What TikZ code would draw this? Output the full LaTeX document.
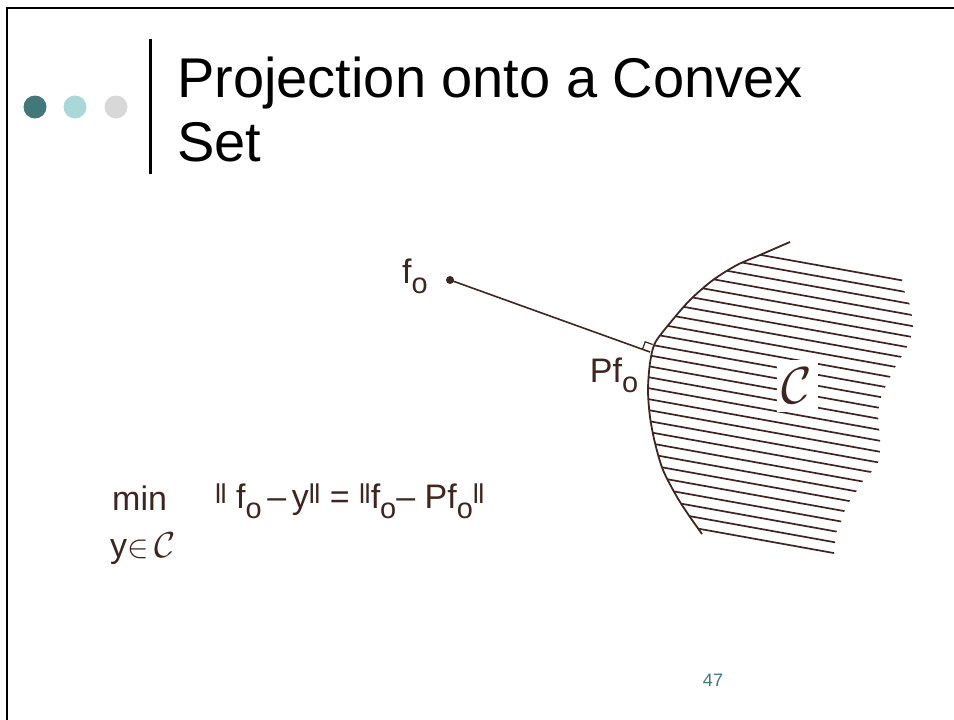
\documentclass[tikz,border=0pt]{standalone}
\usepackage{fontspec}
\setmainfont{Liberation Sans}
\usepackage{tikz}
\usetikzlibrary{calc}
\definecolor{Ink}{HTML}{3E2522}
\definecolor{DotDark}{HTML}{417878}
\definecolor{DotLight}{HTML}{A9D8D8}
\definecolor{DotGrey}{HTML}{D8D8D8}
\definecolor{PageNum}{HTML}{3F7A7A}
\newcommand{\titlefont}{\fontsize{56}{64}\selectfont}
\newcommand{\handfont}{\fontsize{34}{38}\selectfont}
\newcommand{\numfont}{\fontsize{18}{20}\selectfont}
\newcommand{\fo}{f\raisebox{-.3em}{\scalebox{.85}{o}}}
\newcommand{\nrm}{\raisebox{.14em}{\scalebox{.8}{l\kern-.02em l}}}
\newcommand{\setC}[1]{\scalebox{#1}{$\mathcal{C}$}}
\tikzset{
  ink/.style={draw=Ink, line width=1.8pt},
  hatch/.style={draw=Ink, line width=1.7pt},
  hand/.style={text=Ink, font=\handfont, inner sep=0pt}
}

\begin{document}
\begin{tikzpicture}[x=1pt,y=-1pt]
  \useasboundingbox (0,0) rectangle (954,720);

  %% Slide frame
  \draw[line width=2pt] (954,7.5) -- (6.5,7.5) -- (6.5,720);

  %% Bullets and bar
  \fill[DotDark]  (35,107)  circle (11.5);
  \fill[DotLight] (75,107)  circle (11.5);
  \fill[DotGrey]  (116,107) circle (11.5);
  \draw[line width=3pt] (150,39) -- (150,174);

  %% Title
  \node[anchor=base west, font=\titlefont, inner sep=0pt] (title1) at (177,97) {Projection onto a Convex};
  \node[anchor=base west, font=\titlefont, inner sep=0pt] (title2) at (177,161) {Set};

  %% Hatching of the set
  \begin{scope}
    \clip (788,240) -- plot[smooth] coordinates {(788,243) (760,255) (737,265) (713,280) (690,300)
        (670,323) (655,343) (650,363) (648,390) (650,417) (655,443) (663,470) (677,497) (690,517) (702,532)}
      -- (705,562) -- (834,562) -- (834,553) -- (835,543) -- (836,533) -- (841,522) -- (844,512)
      -- (849,502) -- (856,492) -- (863,481) -- (872,471) -- (879,461) -- (880,450) -- (880,438)
      -- (879,427) -- (878,416) -- (879,405) -- (882,394) -- (887,383) -- (892,373) -- (898,362)
      -- (905,351) -- (910,340) -- (913,329) -- (912,317) -- (910,305) -- (905,293) -- (902,282)
      -- (902,268) -- cycle;
    \foreach \k in {0,...,26}
      \draw[hatch] (600,226+10.96*\k) -- ++(340,61.2);
  \end{scope}

  %% Boundary of the set
  \draw[ink] plot[smooth] coordinates {(790,242) (760,255) (737,265) (713,280) (690,300)
      (670,323) (655,343) (650,363) (648,390) (650,417) (655,443) (663,470) (677,497) (690,517) (702,534)};

  %% Label of the set
  \node[fill=white, minimum width=41, minimum height=52, inner sep=0pt, text=Ink] (setC) at (797,386) {\setC{5.2}};

  %% Point and its projection
  \coordinate (f0) at (450,280);
  \coordinate (pf0) at (650,352);
  \fill[Ink] (f0) circle (4);
  \draw[ink, line width=1.6pt] (f0) -- (pf0);
  \draw[Ink, line width=1.2pt] (pf0) ++(-7.5,-2.7) -- ++(2.7,-7.5) -- ++(7.5,2.7);
  \node[hand] (f0lbl) at (415,276) {\fo};
  \node[hand] (pf0lbl) at (614,375) {P\fo};

  %% Problem
  \node[hand, anchor=base west] (minlbl) at (112,510) {min};
  \node[hand, anchor=base west] (yinC) at (110,557) {y\scalebox{1.3}{$\in$}\,\setC{1.45}};
  \node[hand, anchor=base west] (normeq) at (215,508)
    {\nrm\ \fo\,--\,y\nrm\ =\ \nrm\fo--\ P\fo\nrm};

  %% Page number
  \node[text=PageNum, font=\numfont, inner sep=0pt] (pagenum) at (713,680) {47};
\end{tikzpicture}
\end{document}
